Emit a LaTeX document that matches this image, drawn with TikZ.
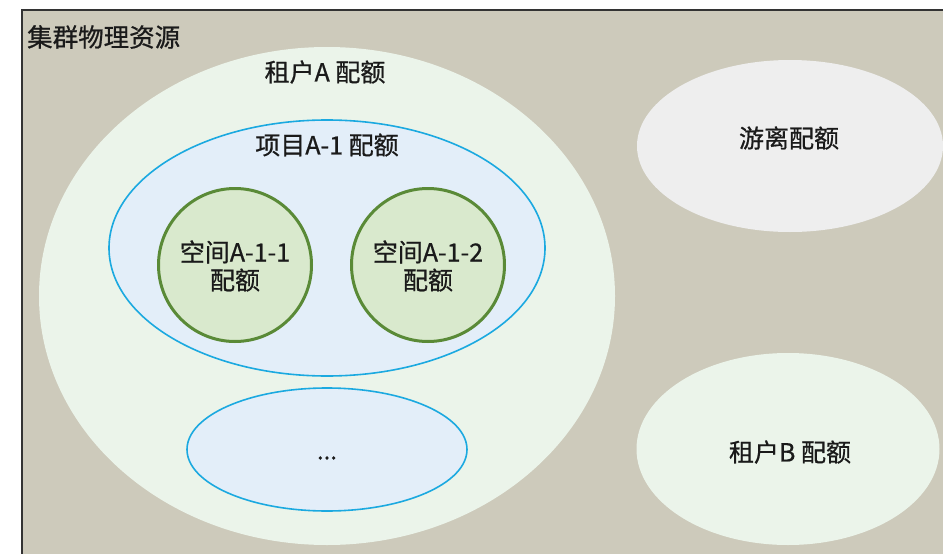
\documentclass[tikz,border=0pt]{standalone}
\usepackage{fontspec}
\newfontfamily\cjk{Noto Sans CJK SC}[FakeBold=0.7]
\usetikzlibrary{shapes.geometric}
\definecolor{bgbeige}{HTML}{CDCABB}
\definecolor{tenantfill}{HTML}{EBF4EA}
\definecolor{projfill}{HTML}{E3EEF9}
\definecolor{projline}{HTML}{1BA9E0}
\definecolor{spacefill}{HTML}{D9E9CD}
\definecolor{spaceline}{HTML}{5A8A37}
\definecolor{freefill}{HTML}{EEEEEE}
\definecolor{txt}{HTML}{1A1A1A}
\tikzset{
  oval/.style={ellipse, inner sep=0pt, draw=none},
  lbl/.style={font=\cjk\fontsize{25}{28}\selectfont, text=txt, inner sep=0pt, align=center},
  spacecirc/.style={circle, inner sep=0pt, minimum size=153pt, fill=spacefill, draw=spaceline, line width=3pt},
}
\begin{document}
\begin{tikzpicture}[x=1pt,y=-1pt]
\useasboundingbox (0,0) rectangle (943,554);
\clip (0,0) rectangle (943,554);
\fill[white] (0,0) rectangle (943,554);
\node[draw=black!80, line width=2pt, fill=bgbeige, rectangle, inner sep=0pt, minimum width=940pt, minimum height=560pt, anchor=north west] (frame) at (21,9) {};
\node[lbl, anchor=west, font=\cjk\fontsize{25.5}{28}\selectfont] (title) at (27,37) {集群物理资源};
% tenant A
\node[oval, fill=tenantfill, minimum width=576pt, minimum height=498pt] (tenantA) at (327,296) {};
\node[lbl] (tenantAlbl) at (325,72) {租户A 配额};
% project A-1
\node[oval, fill=projfill, draw=projline, line width=1.6pt, minimum width=436pt, minimum height=256pt] (projA1) at (327,248) {};
\node[lbl] (projA1lbl) at (327,145) {项目A-1 配额};
% spaces
\node[spacecirc] (space1) at (235,265) {};
\node[lbl] (space1lbl) at (235,266) {空间A-1-1\\配额};
\node[spacecirc] (space2) at (428,265) {};
\node[lbl] (space2lbl) at (428,266) {空间A-1-2\\配额};
% other project
\node[oval, fill=projfill, draw=projline, line width=1.6pt, minimum width=280pt, minimum height=123pt] (projOther) at (327,449.5) {};
\node[lbl, font=\cjk\fontsize{24}{24}\selectfont] (dots) at (327,458) {...};
% free quota
\node[oval, fill=freefill, minimum width=306pt, minimum height=172pt] (free) at (790,146) {};
\node[lbl] (freelbl) at (789,138) {游离配额};
% tenant B
\node[oval, fill=tenantfill, minimum width=303pt, minimum height=192pt] (tenantB) at (788,449) {};
\node[lbl] (tenantBlbl) at (790,452) {租户B 配额};
\end{tikzpicture}
\end{document}
